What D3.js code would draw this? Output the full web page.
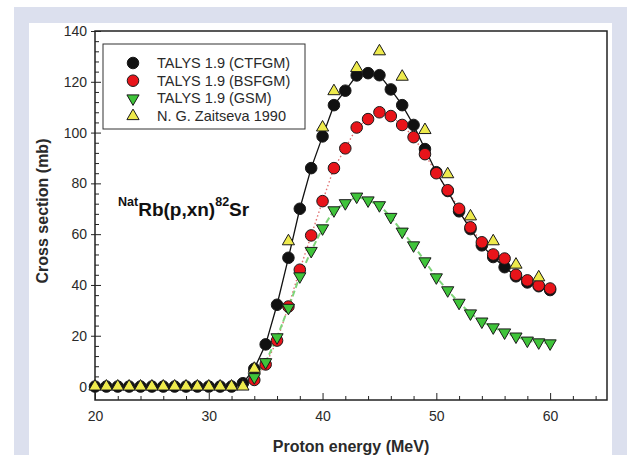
<!DOCTYPE html>
<html>
<head>
<meta charset="utf-8">
<script src="https://cdn.jsdelivr.net/npm/d3@7"></script>
<style>
  html, body { margin: 0; padding: 0; background: #fff; }
  #chart { width: 627px; height: 455px; }
  text { font-family: "Liberation Sans", Arial, sans-serif; }
</style>
</head>
<body>
<div id="chart"></div>
<script>
//Datos
const energyCT = d3.range(20, 61);
const ctfgm = [0,0,0,0,0,0,0,0,0,0,0,0,0, 1.3, 7, 16.6, 32.2, 50.7, 70, 86, 98.5, 110.8, 116.5, 122.5, 123.4, 122.6,
    117, 110.8, 103, 93.5, 84.4, 77, 69, 62, 55.6, 51, 47, 43.4, 41, 39.5, 38];

const energyModel = d3.range(34, 61);
const bsfgm = [2.6, 8.7, 18.1, 31.5, 46, 59.5, 73, 86, 93.8, 102, 105.3, 108, 106.5, 103, 98.2, 91.5, 84,
    77.3, 70, 62.7, 56.8, 52, 50.4, 44, 41.8, 39.8, 38.6];
const gsm = [3.7, 9.6, 19.4, 31, 43.4, 53.4, 62.3, 69.4, 72.2, 74.8, 73.3, 71.4, 66.8, 61, 55.6, 49.3, 43,
    37.9, 33, 28.8, 25.6, 23.3, 21.3, 19.7, 18.1, 17.4, 17];

const energyExp = [20,21,22,23,24,25,26,27,28,29,30,31,32,33,34,37,40,41,43,45,47,49,51,53,55,57,59];
const zaitseva = [0,0,0,0,0,0,0,0,0,0,0,0,0,0, 7, 57.2, 102, 116.3, 125.4, 132, 122, 101, 83.6, 67, 57.2, 48, 43];

const legendLabels = ['TALYS 1.9 (CTFGM)', 'TALYS 1.9 (BSFGM)', 'TALYS 1.9 (GSM)', 'N. G. Zaitseva 1990'];
const xTicks = [20, 30, 40, 50, 60];
const yTicks = [0, 20, 40, 60, 80, 100, 120, 140];

//Colores
const COLOR_BG = '#dce0ee',
    COLOR_BLACK = '#111111',
    COLOR_RED = '#e8141a',
    COLOR_GREEN = '#3fc43a',
    COLOR_YELLOW = '#eeea4c',
    COLOR_AXIS = '#222222',
    COLOR_TEXT = '#2a2a2a';

let width = 627, height = 455;
let svg = d3.select('#chart').append('svg')
    .attr('width', width)
    .attr('height', height);

//Marco azul y panel blanco
svg.append('rect').attr('x', 14).attr('y', 7).attr('width', width - 14).attr('height', height - 7).attr('fill', COLOR_BG);
svg.append('rect').attr('x', 29).attr('y', 23).attr('width', 612 - 29).attr('height', height - 23).attr('fill', '#fff');

//Escalas
let x = d3.scaleLinear().domain([20, 65]).range([95, 607]);
let y = d3.scaleLinear().domain([-5.3, 140]).range([400, 31]);

//Marco del gráfico
svg.append('rect')
    .attr('x', x(20)).attr('y', y(140))
    .attr('width', x(65) - x(20)).attr('height', y(-5.3) - y(140))
    .attr('fill', 'none').attr('stroke', COLOR_AXIS).attr('stroke-width', 1.5);

//Eje X
let gx = svg.append('g').attr('transform', 'translate(0,' + y(-5.3) + ')');
gx.call(d3.axisBottom(x).tickValues(d3.range(22, 65, 2).filter(function(d) { return d % 10 != 0; })).tickSize(-4).tickFormat(''));
gx.select('.domain').remove();
let gx2 = svg.append('g').attr('transform', 'translate(0,' + y(-5.3) + ')');
gx2.call(d3.axisBottom(x).tickValues(xTicks).tickSize(-7).tickPadding(11).tickFormat(d3.format('d')));
gx2.select('.domain').remove();
gx2.selectAll('text').attr('font-size', 14).attr('fill', COLOR_TEXT);

//Eje Y
let gy = svg.append('g').attr('transform', 'translate(' + x(20) + ',0)');
gy.call(d3.axisLeft(y).tickValues(d3.range(4, 140, 4).filter(function(d) { return d % 20 != 0; })).tickSize(-4).tickFormat(''));
gy.select('.domain').remove();
let gy2 = svg.append('g').attr('transform', 'translate(' + x(20) + ',0)');
gy2.call(d3.axisLeft(y).tickValues(yTicks).tickSize(-6).tickPadding(8).tickFormat(d3.format('d')));
gy2.select('.domain').remove();
gy2.selectAll('.tick line').attr('x1', -4);
gy2.selectAll('text').attr('font-size', 14).attr('fill', COLOR_TEXT);
svg.selectAll('.tick line').attr('stroke', COLOR_AXIS);

//Títulos de los ejes
svg.append('text')
    .attr('x', 351).attr('y', 452)
    .attr('text-anchor', 'middle')
    .attr('font-size', 16).attr('font-weight', 'bold').attr('fill', COLOR_TEXT)
    .text('Proton energy (MeV)');

svg.append('text')
    .attr('transform', 'translate(48,211) rotate(-90)')
    .attr('text-anchor', 'middle')
    .attr('font-size', 16).attr('font-weight', 'bold').attr('fill', COLOR_TEXT)
    .text('Cross section (mb)');

//Líneas
let line = d3.line()
    .x(function(d) { return x(d[0]); })
    .y(function(d) { return y(d[1]); });

let serieCT = d3.zip(energyCT, ctfgm),
    serieBS = d3.zip(energyModel, bsfgm),
    serieGS = d3.zip(energyModel, gsm),
    serieExp = d3.zip(energyExp, zaitseva);

svg.append('path').datum(serieBS).attr('d', line)
    .attr('fill', 'none').attr('stroke', '#e07070').attr('stroke-width', 1.4).attr('stroke-dasharray', '1.5,2.5');
svg.append('path').datum(serieGS).attr('d', line)
    .attr('fill', 'none').attr('stroke', '#7fd47a').attr('stroke-width', 2).attr('stroke-dasharray', '6,3');
svg.append('path').datum(serieCT).attr('d', line)
    .attr('fill', 'none').attr('stroke', COLOR_BLACK).attr('stroke-width', 1.3);

//Marcadores
let symCircle = d3.symbol().type(d3.symbolCircle).size(105);
let symTri = d3.symbol().type(d3.symbolTriangle).size(64);

function drawMarkers(data, sym, fill, rot) {
    svg.append('g').selectAll('path')
        .data(data)
        .enter()
        .append('path')
        .attr('d', sym)
        .attr('transform', function(d) { return 'translate(' + x(d[0]) + ',' + y(d[1]) + ') rotate(' + rot + ')'; })
        .attr('fill', fill)
        .attr('stroke', '#1a1a1a')
        .attr('stroke-width', 1);
}

drawMarkers(serieCT, symCircle, COLOR_BLACK, 0);
drawMarkers(serieBS, symCircle, COLOR_RED, 0);
drawMarkers(serieGS, symTri, COLOR_GREEN, 180);
drawMarkers(serieExp, symTri, COLOR_YELLOW, 0);

//Leyenda
let legend = svg.append('g');
legend.append('rect')
    .attr('x', 103).attr('y', 44).attr('width', 202).attr('height', 85)
    .attr('fill', '#fff').attr('stroke', '#333').attr('stroke-width', 1);

let legendItems = [
    { sym: symCircle, fill: COLOR_BLACK, rot: 0 },
    { sym: symCircle, fill: COLOR_RED, rot: 0 },
    { sym: symTri, fill: COLOR_GREEN, rot: 180 },
    { sym: symTri, fill: COLOR_YELLOW, rot: 0 }
];

legendLabels.forEach(function(lbl, i) {
    let ly = 63 + i * 17.7;
    legend.append('path')
        .attr('d', legendItems[i].sym)
        .attr('transform', 'translate(133,' + ly + ') rotate(' + legendItems[i].rot + ')')
        .attr('fill', legendItems[i].fill)
        .attr('stroke', '#1a1a1a').attr('stroke-width', 1);
    legend.append('text')
        .attr('x', 157).attr('y', ly + 5)
        .attr('font-size', 14.5).attr('fill', COLOR_TEXT)
        .text(lbl);
});

//Anotación de la reacción
let ann = svg.append('text')
    .attr('x', 118).attr('y', 216)
    .attr('font-weight', 'bold').attr('fill', '#111');
ann.append('tspan').attr('font-size', 12.5).attr('dy', -10).text('Nat');
ann.append('tspan').attr('font-size', 19).attr('dy', 10).text('Rb(p,xn)');
ann.append('tspan').attr('font-size', 12.5).attr('dy', -10).text('82');
ann.append('tspan').attr('font-size', 19).attr('dy', 10).text('Sr');
</script>
</body>
</html>
